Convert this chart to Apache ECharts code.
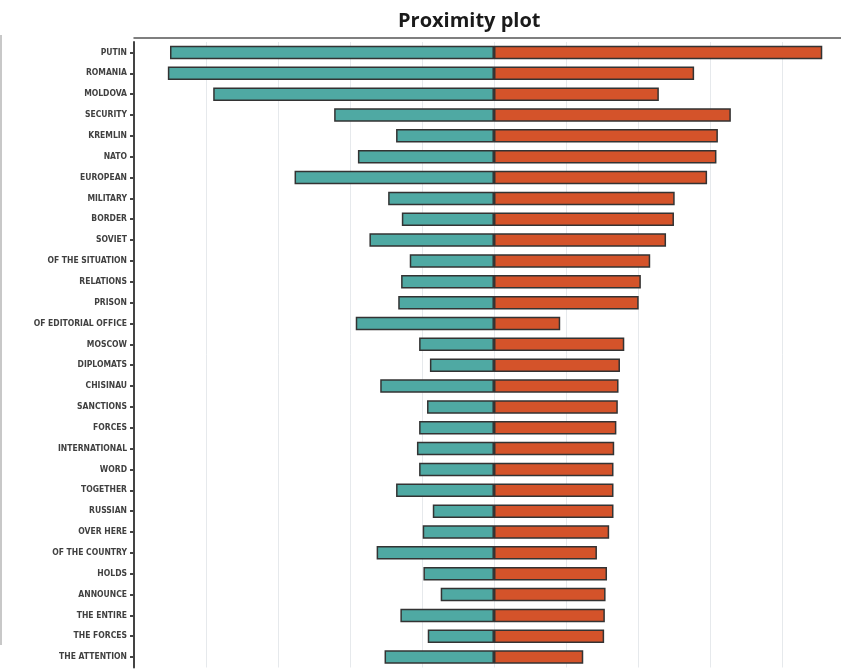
<!DOCTYPE html>
<html>
<head>
<meta charset="utf-8">
<script src="https://cdn.jsdelivr.net/npm/echarts@6/dist/echarts.min.js"></script>
<style>html,body{margin:0;padding:0;background:#fff}#c{width:841px;height:671px}</style>
</head>
<body>
<div id="c"></div>
<script>
const categories = ["PUTIN","ROMANIA","MOLDOVA","SECURITY","KREMLIN","NATO","EUROPEAN","MILITARY","BORDER","SOVIET",
  "OF THE SITUATION","RELATIONS","PRISON","OF EDITORIAL OFFICE","MOSCOW","DIPLOMATS","CHISINAU","SANCTIONS","FORCES","INTERNATIONAL",
  "WORD","TOGETHER","RUSSIAN","OVER HERE","OF THE COUNTRY","HOLDS","ANNOUNCE","THE ENTIRE","THE FORCES","THE ATTENTION"];
const leftValues = [4.50,4.53,3.90,2.22,1.36,1.89,2.77,1.47,1.28,1.73,
  1.17,1.29,1.33,1.92,1.04,0.89,1.58,0.93,1.04,1.07,
  1.04,1.36,0.85,0.99,1.63,0.98,0.74,1.30,0.92,1.52];
const rightValues = [4.56,2.78,2.29,3.29,3.11,3.09,2.96,2.51,2.50,2.39,
  2.17,2.04,2.01,0.92,1.81,1.75,1.73,1.72,1.70,1.67,
  1.66,1.66,1.66,1.60,1.43,1.57,1.55,1.54,1.53,1.24];
// visible x range (plot is cut off at the right edge of the picture)
const xMin = -5, xMax = 4.82, xInterval = 1;

const chart = echarts.init(document.getElementById('c'), null, {renderer:'canvas'});
chart.setOption({
  animation:false,
  backgroundColor:'#ffffff',
  title:{text:'Proximity plot', left:393, top:6,
    textStyle:{fontFamily:'Open Sans, Lato, sans-serif', fontWeight:'bold', fontSize:20, color:'#1a1a1a'}},
  grid:{left:134, top:42, right:0, height:625.5},
  xAxis:{type:'value', position:'top', offset:4, min:xMin, max:xMax, interval:xInterval,
    axisLine:{show:true, lineStyle:{color:'#555', width:1.5}},
    axisTick:{show:false}, axisLabel:{show:false},
    splitLine:{show:true, lineStyle:{color:'#e6e9ec', width:1}}},
  yAxis:{type:'category', inverse:true, data:categories,
    axisLine:{show:true, onZero:false, lineStyle:{color:'#444', width:2}},
    axisTick:{show:true, alignWithLabel:true, length:4, lineStyle:{color:'#444', width:2}},
    axisLabel:{margin:7, fontSize:8.5, fontWeight:'bold', color:'#404040',
      fontFamily:'"Liberation Sans Narrow","DejaVu Sans Condensed","Roboto Condensed",sans-serif'}},
  graphic:[{type:'line', shape:{x1:1, y1:35, x2:1, y2:645}, style:{stroke:'#c8c8c8', lineWidth:2}, silent:true}],
  series:[
    {type:'bar', stack:'s', barWidth:13.5, data:leftValues.map(v=>-v),
      itemStyle:{color:'#4fa9a3', borderColor:'#333', borderWidth:1.5}},
    {type:'bar', stack:'s', barWidth:13.5, data:rightValues,
      itemStyle:{color:'#d4532a', borderColor:'#333', borderWidth:1.5}}
  ]
});
</script>
</body>
</html>
